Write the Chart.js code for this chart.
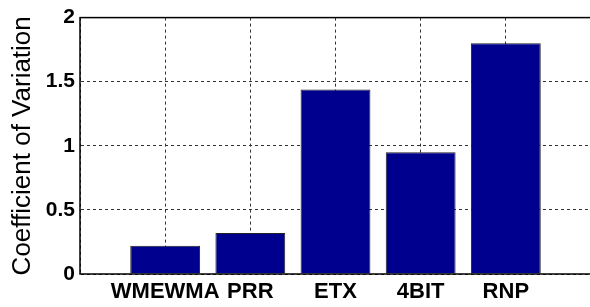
<!DOCTYPE html>
<html>
<head>
<meta charset="utf-8">
<script src="https://cdn.jsdelivr.net/npm/chart.js@4"></script>
<style>
    html, body { margin: 0; padding: 0; background: #fff; overflow: hidden; }
    #wrap { width: 600px; height: 307px; }
</style>
</head>
<body>
<div id="wrap"><canvas id="chart" width="600" height="307"></canvas></div>
<script>
// values
const categories = ["", "WMEWMA", "PRR", "ETX", "4BIT", "RNP", ""]
const cvValues = [null, 0.22, 0.32, 1.44, 0.95, 1.80, null]
const yTickLabels = ["0", "0.5", "1", "1.5", "2"]
const yTitle = "Coefficient of Variation"

const boldFont = "'Liberation Sans', Arial, sans-serif"

// box around the plot area (top + right sides too)
const frame = {
    id: "frame",
    afterDraw(chart) {
        const { ctx, chartArea: a } = chart
        ctx.save()
        ctx.strokeStyle = "#000"
        ctx.lineWidth = 1.5
        ctx.strokeRect(a.left, a.top, a.right - a.left, a.bottom - a.top)
        ctx.restore()
    }
}

new Chart(document.getElementById("chart").getContext("2d"), {
    type: "bar",
    data: {
        labels: categories,
        datasets: [{
            data: cvValues,
            backgroundColor: "#00008F",
            borderColor: "#222",
            borderWidth: 1,
            barPercentage: 0.82,
            categoryPercentage: 1
        }]
    },
    options: {
        responsive: false,
        animation: false,
        layout: { padding: { top: 16, right: 9, left: 0, bottom: 0 } },
        plugins: { legend: { display: false }, tooltip: { enabled: false } },
        scales: {
            x: {
                offset: false,
                grid: { offset: false, color: "#333", lineWidth: 1, drawTicks: false },
                border: { display: true, color: "rgba(0,0,0,0)", dash: [3, 3] },
                ticks: { color: "#000", font: { family: boldFont, size: 22, weight: "bold" }, padding: 5, maxRotation: 0, autoSkip: false },
                afterFit(scale) { scale.height = 33 }
            },
            y: {
                min: 0,
                max: 2,
                grid: { color: "#333", lineWidth: 1, drawTicks: false },
                border: { display: true, color: "rgba(0,0,0,0)", dash: [3, 3] },
                ticks: {
                    stepSize: 0.5,
                    color: "#000",
                    font: { family: boldFont, size: 21, weight: "bold" },
                    padding: 5,
                    callback: (v, i) => yTickLabels[i]
                },
                title: {
                    display: true,
                    text: yTitle,
                    color: "#000",
                    font: { family: "'Liberation Sans', Arial, sans-serif", size: 26 },
                    padding: { top: 7, bottom: 0 }
                },
                afterFit(scale) { scale.width = 80 }
            }
        }
    },
    plugins: [frame]
})
</script>
</body>
</html>
